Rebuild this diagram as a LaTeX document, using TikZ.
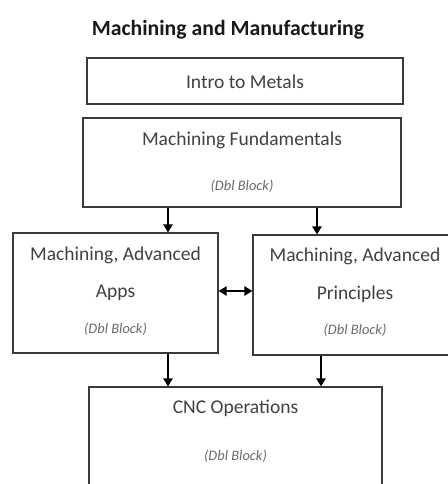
\documentclass[tikz,border=0pt]{standalone}
\usepackage{fontspec}
\setmainfont{Carlito}
\usetikzlibrary{arrows.meta}
\definecolor{boxline}{HTML}{3A3A3A}
\definecolor{txt}{HTML}{404040}
\definecolor{subtxt}{HTML}{6A6A6A}
\tikzset{
  box/.style={draw=boxline, line width=1.3pt, rectangle, inner sep=0pt},
  lbl/.style={text=txt, font=\fontsize{19.6}{23}\selectfont, inner sep=0pt, anchor=center},
  sub/.style={text=subtxt, font=\fontsize{14.5}{17}\selectfont\itshape, inner sep=0pt, anchor=center},
  arr/.style={draw=black, line width=1.3pt, -{Triangle[length=8pt,width=9.5pt]}},
  darr/.style={draw=black, line width=1.3pt, {Triangle[length=8pt,width=9.5pt]}-{Triangle[length=8pt,width=9.5pt]}}
}
\begin{document}
\begin{tikzpicture}[x=1bp,y=-1bp]
\useasboundingbox (0,0) rectangle (448,484);
\clip (0,0) rectangle (448,484);
\node[text=black!90, font=\fontsize{21.8}{26}\selectfont\bfseries, inner sep=0pt] (title) at (228,30) {Machining and Manufacturing};
\node[box, minimum width=316bp, minimum height=46bp] (intro) at (245,81) {};
\node[lbl] (introt) at (245,82) {Intro to Metals};
\node[box, minimum width=318bp, minimum height=89bp] (mf) at (242,162.5) {};
\node[lbl] (mft) at (242,140) {Machining Fundamentals};
\node[sub] (mfs) at (242,186) {(Dbl Block)};
\node[box, minimum width=205bp, minimum height=120bp] (aa) at (115.5,293) {};
\node[lbl] (aat1) at (115.5,255) {Machining, Advanced};
\node[lbl] (aat2) at (115.5,293) {Apps};
\node[sub] (aas) at (115.5,329) {(Dbl Block)};
\node[box, minimum width=204bp, minimum height=120bp] (ap) at (355,295) {};
\node[lbl] (apt1) at (355,256) {Machining, Advanced};
\node[lbl] (apt2) at (355,294) {Principles};
\node[sub] (aps) at (355,330) {(Dbl Block)};
\node[box, minimum width=293bp, minimum height=110bp] (cnc) at (235.5,442) {};
\node[lbl] (cnct) at (235.5,408) {CNC Operations};
\node[sub] (cncs) at (235.5,456) {(Dbl Block)};
\coordinate (c1) at (168,0);
\coordinate (c2) at (317,0);
\coordinate (c3) at (168,0);
\coordinate (c4) at (321,0);
\coordinate (c5) at (0,291);
\draw[arr] (mf.south -| c1) -- (aa.north -| c1);
\draw[arr] (mf.south -| c2) -- (ap.north -| c2);
\draw[arr] (aa.south -| c3) -- (cnc.north -| c3);
\draw[arr] (ap.south -| c4) -- (cnc.north -| c4);
\draw[darr] (aa.east |- c5) -- (ap.west |- c5);
\end{tikzpicture}
\end{document}
